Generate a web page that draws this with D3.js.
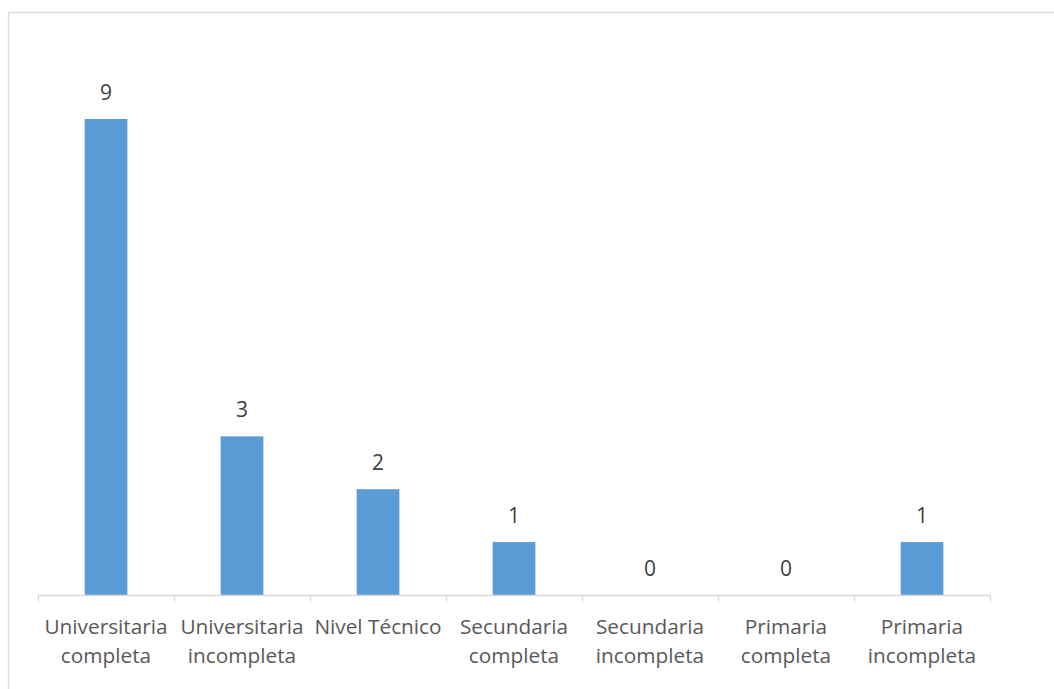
<!DOCTYPE html>
<html>
<head>
<meta charset="utf-8">
<script src="https://cdn.jsdelivr.net/npm/d3@7"></script>
<style>
  html, body { margin: 0; padding: 0; background: #fff; }
  svg { display: block; }
</style>
</head>
<body>
<svg id="chart" width="1054" height="689"></svg>
<script>
// Nivel educativo: number of people per category
const categories = [
  ["Universitaria", "completa"],
  ["Universitaria", "incompleta"],
  ["Nivel Técnico"],
  ["Secundaria", "completa"],
  ["Secundaria", "incompleta"],
  ["Primaria", "completa"],
  ["Primaria", "incompleta"]
];
const values = [9, 3, 2, 1, 0, 0, 1];

const svg = d3.select("#chart");
const W = 1054, H = 689;
const plot = { left: 38, right: 990, top: 119, bottom: 595 };

// chart area border
svg.append("rect")
  .attr("x", 8.5).attr("y", 12.5)
  .attr("width", W + 10).attr("height", H + 10)
  .attr("fill", "none").attr("stroke", "#d9d9d9").attr("stroke-width", 1.3);

const keys = categories.map((c, i) => i);
const x = d3.scaleBand().domain(keys).range([plot.left, plot.right])
  .paddingInner(0.686).paddingOuter(0.343);
const xTicks = d3.scaleBand().domain(keys).range([plot.left, plot.right]);
const y = d3.scaleLinear().domain([0, 9]).range([plot.bottom, plot.top]);

// bars
svg.append("g").selectAll("rect").data(values).join("rect")
  .attr("x", (d, i) => x(i))
  .attr("y", d => y(d))
  .attr("width", x.bandwidth())
  .attr("height", d => y(0) - y(d))
  .attr("fill", "#5b9bd5");

// category axis line with tick marks between categories
const axis = svg.append("g");
axis.append("line")
  .attr("x1", plot.left).attr("x2", plot.right)
  .attr("y1", plot.bottom + 0.5).attr("y2", plot.bottom + 0.5)
  .attr("stroke", "#d9d9d9").attr("stroke-width", 1.3);
const tickPos = keys.map(i => xTicks(i)).concat([plot.right]);
axis.selectAll("line.tick").data(tickPos).join("line")
  .attr("class", "tick")
  .attr("x1", d => Math.round(d) + 0.5).attr("x2", d => Math.round(d) + 0.5)
  .attr("y1", plot.bottom).attr("y2", plot.bottom + 6)
  .attr("stroke", "#d9d9d9").attr("stroke-width", 1.3);

// category labels (possibly two lines)
const labels = svg.append("g")
  .attr("font-family", "'Open Sans', sans-serif")
  .attr("font-size", 20.8)
  .attr("fill", "#595959")
  .attr("text-anchor", "middle");
categories.forEach((lines, i) => {
  const t = labels.append("text")
    .attr("x", xTicks(i) + xTicks.bandwidth() / 2)
    .attr("y", 634);
  lines.forEach((ln, j) => {
    t.append("tspan")
      .attr("x", xTicks(i) + xTicks.bandwidth() / 2)
      .attr("dy", j === 0 ? 0 : 29)
      .text(ln);
  });
});

// value labels above bars
svg.append("g")
  .attr("font-family", "'Open Sans', sans-serif")
  .attr("font-size", 21)
  .attr("fill", "#404040")
  .attr("text-anchor", "middle")
  .selectAll("text").data(values).join("text")
  .attr("x", (d, i) => x(i) + x.bandwidth() / 2)
  .attr("y", d => y(d) - 19)
  .text(d => d);
</script>
</body>
</html>
